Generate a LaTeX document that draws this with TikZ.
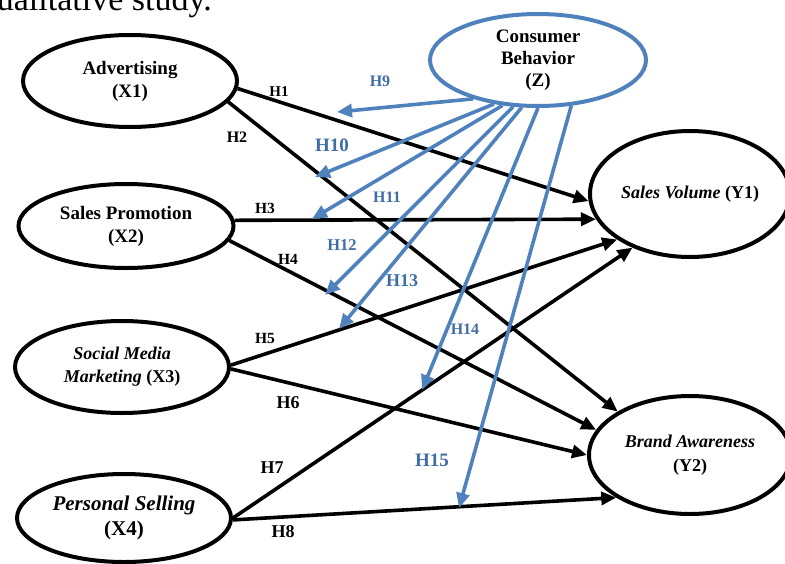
\documentclass[tikz,border=0pt]{standalone}
\usepackage{fontspec}
\setmainfont{Liberation Serif}
\usetikzlibrary{shapes.geometric,arrows.meta}
\definecolor{cbline}{HTML}{4F81BD}
\definecolor{cbtext}{HTML}{3F6DA5}
\begin{document}
\begin{tikzpicture}[x=1pt,y=-1pt,
  var/.style={ellipse,draw,line width=4pt,inner sep=0pt,align=center,
    font=\bfseries\fontsize{19}{23}\selectfont},
  hyparrow/.style={line width=3.6pt,-{Triangle[length=15pt,width=13pt]}},
  modarrow/.style={hyparrow,draw=cbline},
  hlab/.style={font=\bfseries\fontsize{#1}{#1}\selectfont,inner sep=0pt},
  blab/.style={hlab=#1,text=cbtext}
]
\clip (0,0) rectangle (785,563);

\node[anchor=base east,font=\fontsize{34}{34}\selectfont,inner sep=0pt] (top) at (212,10) {qualitative study.};

% variables
\node[var,minimum width=214pt,minimum height=92pt] (adv) at (130,81) {Advertising\\(X1)};
\node[var,minimum width=215pt,minimum height=84pt] (sp) at (126,226) {Sales Promotion\\(X2)};
\node[var,minimum width=214pt,minimum height=92pt,font=\bfseries\fontsize{18}{23}\selectfont] (smm) at (122,367) {\textit{Social Media}\\\textit{Marketing} (X3)};
\node[var,minimum width=214pt,minimum height=88pt,font=\bfseries\fontsize{21}{25}\selectfont] (ps) at (124,518) {\textit{Personal Selling}\\(X4)};
\node[var,draw=cbline,minimum width=216pt,minimum height=92pt,font=\bfseries\fontsize{19}{22}\selectfont] (cb) at (538,60) {Consumer\\Behavior\\(Z)};
\node[var,minimum width=200pt,minimum height=126pt,font=\bfseries\fontsize{18}{23}\selectfont] (sv) at (690,194) {\textit{Sales Volume} (Y1)};
\node[var,minimum width=202pt,minimum height=118pt,font=\bfseries\fontsize{18}{24}\selectfont] (ba) at (690,455) {\textit{Brand Awareness}\\(Y2)};

% direct hypotheses
\draw[hyparrow] (adv.-4) -- (sv.184.4);
\draw[hyparrow] (adv.-12.8) -- (ba.149.5);
\draw[hyparrow] (sp.3.15) -- (sv.195.5);
\draw[hyparrow] (sp.-8.8) -- (ba.165);
\draw[hyparrow] (smm.1) -- (sv.212.6);
\draw[hyparrow] (smm.-1) -- (ba.180);
\draw[hyparrow] (ps.0.5) -- (sv.223);
\draw[hyparrow] (ps.-1) -- (ba.210.3);

% moderation arrows
\coordinate (t9) at (337,112);
\coordinate (t10) at (315,177);
\coordinate (t11) at (312,219);
\coordinate (t12) at (325,295);
\coordinate (t13) at (339,329);
\coordinate (t14) at (422,390);
\coordinate (t15) at (459,508);
\draw[modarrow] (cb.211.9) -- (t9);
\draw[modarrow] (cb.225.7) -- (t10);
\draw[modarrow] (cb.232.7) -- (t11);
\draw[modarrow] (cb.242) -- (t12);
\draw[modarrow] (cb.251.2) -- (t13);
\draw[modarrow] (cb.270) -- (t14);
\draw[modarrow] (cb.306.5) -- (t15);

% labels
\node[hlab=15] (h1) at (279,92) {H1};
\node[hlab=16] (h2) at (237,137) {H2};
\node[hlab=15.5] (h3) at (265,208) {H3};
\node[hlab=15.5] (h4) at (288,259) {H4};
\node[hlab=15.5] (h5) at (265,338) {H5};
\node[hlab=18] (h6) at (288,403) {H6};
\node[hlab=18] (h7) at (272,468) {H7};
\node[hlab=18] (h8) at (283,532) {H8};
\node[blab=16] (h9) at (380,81) {H9};
\node[blab=19] (h10) at (332,145) {H10};
\node[blab=16] (h11) at (387,197) {H11};
\node[blab=16.5] (h12) at (342,245) {H12};
\node[blab=18] (h13) at (402,281) {H13};
\node[blab=16] (h14) at (465,329) {H14};
\node[blab=19] (h15) at (432,460) {H15};
\end{tikzpicture}
\end{document}
